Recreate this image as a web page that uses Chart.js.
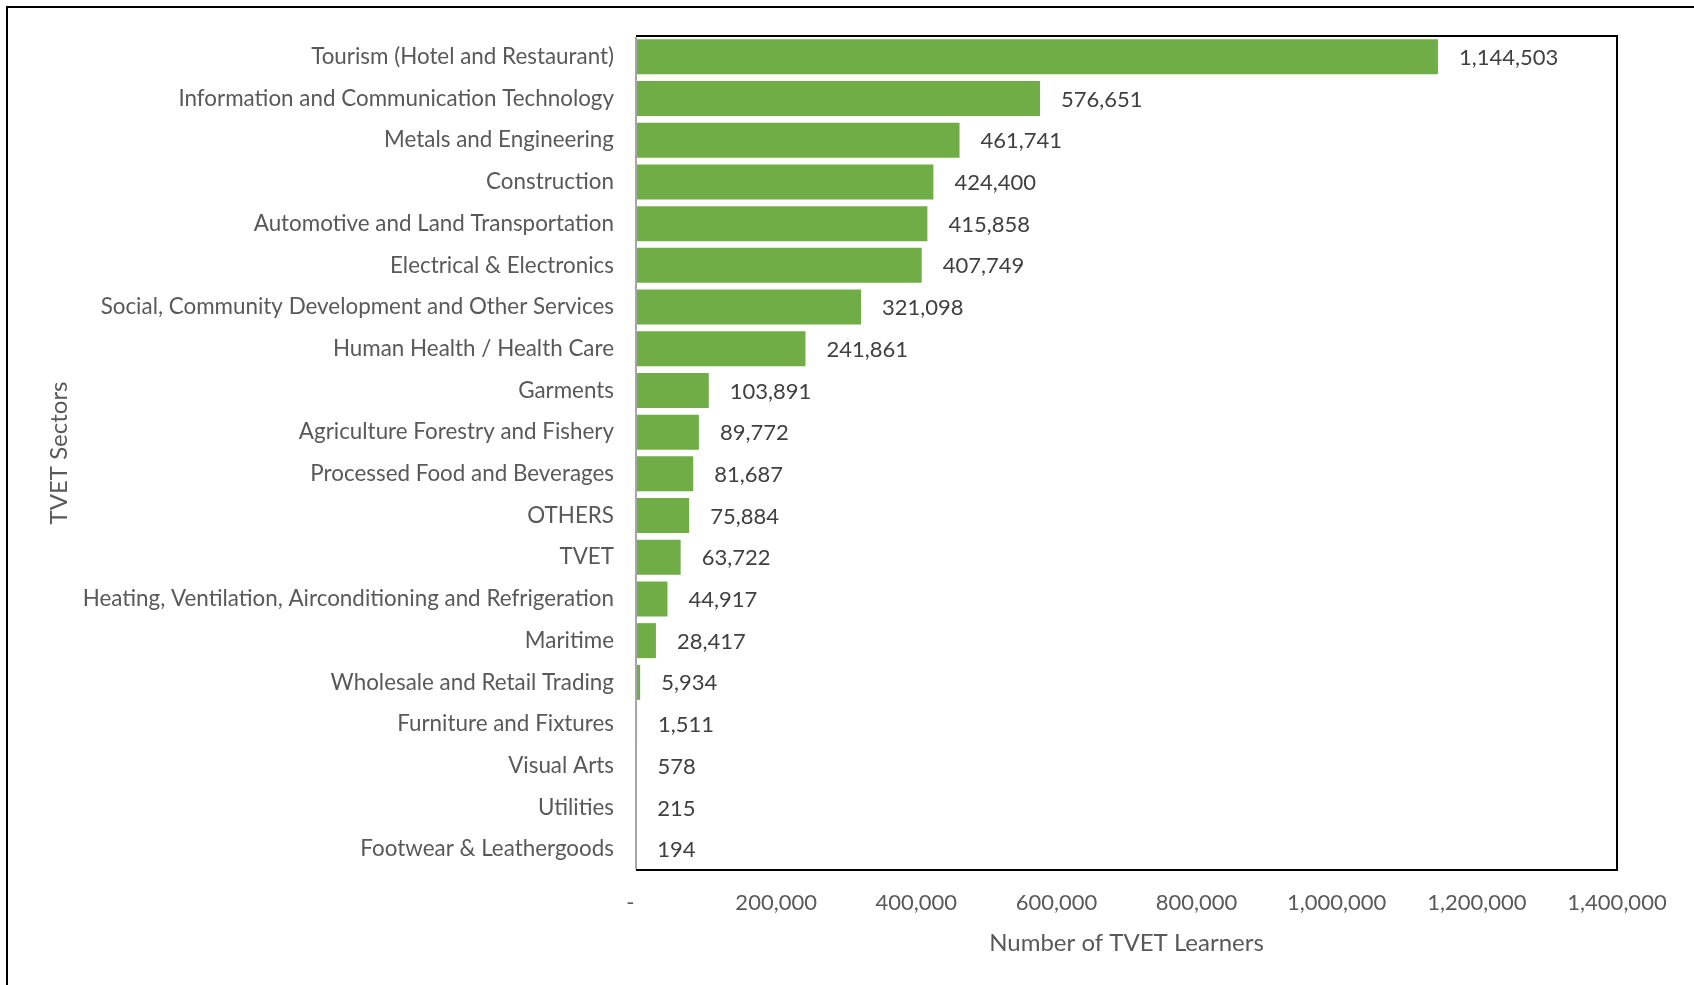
<!DOCTYPE html>
<html lang="en">
<head>
    <meta charset="UTF-8">
    <title>TVET Learners by Sector</title>
    <script src="https://cdn.jsdelivr.net/npm/chart.js"></script>
    <style>
        html, body {
            margin: 0;
            padding: 0;
            background: #ffffff;
            overflow: hidden;
        }
        #wrap {
            position: relative;
            width: 1694px;
            height: 985px;
        }
        #frame {
            position: absolute;
            left: 6px;
            top: 6px;
            width: 1800px;
            height: 1100px;
            border-left: 2px solid #000;
            border-top: 2px solid #000;
            pointer-events: none;
        }
    </style>
</head>
<body>
<div id="wrap">
    <canvas id="chart" width="1694" height="985"></canvas>
    <div id="frame"></div>
</div>

<script>
// sectors, top to bottom
const sectors = [
    "Tourism (Hotel and Restaurant)",
    "Information and Communication Technology",
    "Metals and Engineering",
    "Construction",
    "Automotive and Land Transportation",
    "Electrical & Electronics",
    "Social, Community Development and Other Services",
    "Human Health / Health Care",
    "Garments",
    "Agriculture Forestry and Fishery",
    "Processed Food and Beverages",
    "OTHERS",
    "TVET",
    "Heating, Ventilation, Airconditioning and Refrigeration",
    "Maritime",
    "Wholesale and Retail Trading",
    "Furniture and Fixtures",
    "Visual Arts",
    "Utilities",
    "Footwear & Leathergoods"
];

const learners = [
    1144503, 576651, 461741, 424400, 415858, 407749, 321098, 241861,
    103891, 89772, 81687, 75884, 63722, 44917, 28417, 5934, 1511, 578, 215, 194
];

const xTicks = [0, 200000, 400000, 600000, 800000, 1000000, 1200000, 1400000];

const FONT = "Lato, 'Open Sans', sans-serif";

// value labels at the end of each bar
const barLabels = {
    id: 'barLabels',
    afterDatasetsDraw(chart) {
        const ctx = chart.ctx;
        const meta = chart.getDatasetMeta(0);
        ctx.save();
        ctx.font = "22px " + FONT;
        ctx.fillStyle = "#404040";
        ctx.textAlign = "left";
        ctx.textBaseline = "middle";
        meta.data.forEach((bar, i) => {
            ctx.fillText(learners[i].toLocaleString('en-US'), bar.x + 21, bar.y + 1);
        });
        ctx.restore();
    }
};

// dark box round the plot area (left side is the grey axis line)
const plotBox = {
    id: 'plotBox',
    afterDraw(chart) {
        const a = chart.chartArea;
        const ctx = chart.ctx;
        ctx.save();
        ctx.strokeStyle = "#000";
        ctx.lineWidth = 2;
        ctx.beginPath();
        ctx.moveTo(a.left, a.top);
        ctx.lineTo(a.right, a.top);
        ctx.lineTo(a.right, a.bottom);
        ctx.lineTo(a.left, a.bottom);
        ctx.stroke();
        ctx.strokeStyle = "#a6a6a6";
        ctx.beginPath();
        ctx.moveTo(a.left, a.top + 1);
        ctx.lineTo(a.left, a.bottom - 1);
        ctx.stroke();
        ctx.restore();
    }
};

new Chart(document.getElementById("chart"), {
    type: 'bar',
    data: {
        labels: sectors,
        datasets: [{
            data: learners,
            backgroundColor: '#70AD47',
            borderWidth: 0,
            categoryPercentage: 1.0,
            barPercentage: 0.84
        }]
    },
    options: {
        indexAxis: 'y',
        responsive: false,
        animation: false,
        layout: {
            padding: { left: 40, right: 77, top: 36, bottom: 0 }
        },
        plugins: {
            legend: { display: false },
            tooltip: { enabled: false }
        },
        scales: {
            x: {
                min: 0,
                max: 1400000,
                afterBuildTicks(scale) {
                    scale.ticks = xTicks.map(v => ({ value: v }));
                },
                afterFit(scale) {
                    scale.height = 115;
                },
                grid: { display: false, drawTicks: false },
                border: { display: false },
                ticks: {
                    padding: 20,
                    color: '#595959',
                    font: { family: FONT, size: 22 },
                    maxRotation: 0,
                    autoSkip: false,
                    callback: v => v === 0 ? '-  ' : v.toLocaleString('en-US')
                },
                title: {
                    display: true,
                    text: 'Number of TVET Learners',
                    color: '#595959',
                    font: { family: FONT, size: 24 },
                    padding: { top: 0, bottom: 27 }
                }
            },
            y: {
                afterFit(scale) {
                    scale.width = 596;
                },
                grid: { display: false, drawTicks: false },
                border: { display: false },
                ticks: {
                    padding: 22,
                    color: '#595959',
                    font: { family: FONT, size: 22.4 },
                    autoSkip: false
                },
                title: {
                    display: true,
                    text: 'TVET Sectors',
                    color: '#595959',
                    font: { family: FONT, size: 24 },
                    padding: { top: 5, bottom: 0 }
                }
            }
        }
    },
    plugins: [barLabels, plotBox]
});
</script>
</body>
</html>
